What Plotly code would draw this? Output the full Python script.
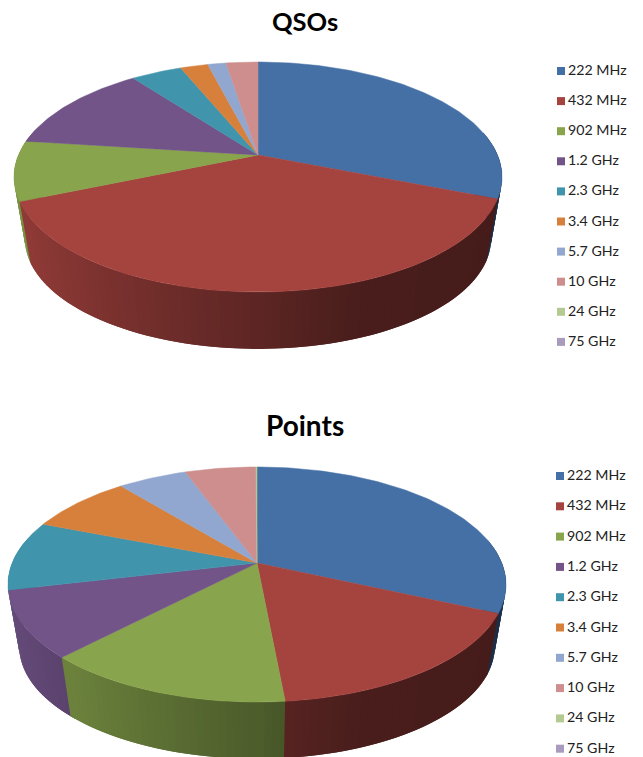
import numpy as np
import plotly.graph_objects as go

categories = ["222 MHz", "432 MHz", "902 MHz", "1.2 GHz", "2.3 GHz", "3.4 GHz", "5.7 GHz", "10 GHz", "24 GHz", "75 GHz"]
qso_values = [31.0, 37.6, 8.4, 12.7, 4.05, 2.2, 1.46, 2.54, 0, 0]
point_values = [31.75, 16.75, 13.67, 9.17, 9.58, 8.14, 5.36, 5.5, 0.08, 0]
colors = ["#4570A5", "#A5433F", "#88A44C", "#725489", "#4095AD", "#D7803C", "#92A7CF", "#CD8E8D", "#B5CA92", "#A99BBD"]

W, H = 643, 757
FONT = "Lato"


def shade(hex_color, f):
    r, g, b = (int(hex_color[i:i + 2], 16) for i in (1, 3, 5))
    return f"rgb({r * f:.0f},{g * f:.0f},{b * f:.0f})"


def rim(theta, cx, cy, A, B, k, dy=0.0):
    # theta clockwise from 12 o'clock, perspective-projected circle
    ux, uy = np.sin(theta), -np.cos(theta)
    s = 1 / (1 - k * uy)
    return cx + B * ux * s, cy + dy + A * uy * s


def add_pie(fig, values, cx, cy, A, B, k, depth, shrink):
    fr = np.array(values, float)
    fr = fr / fr.sum()
    edges = np.concatenate([[0], np.cumsum(fr)]) * 2 * np.pi
    # wall, painted from the back to the front, split at slice boundaries
    lo, hi = np.radians(78), np.radians(282)
    step = np.radians(1.5)
    grid = np.arange(lo, hi + step, step)
    breaks = np.unique(np.r_[grid, edges[(edges > lo) & (edges < hi)]])
    bands = list(zip(breaks[:-1], breaks[1:]))
    bands.sort(key=lambda ab: -np.cos((ab[0] + ab[1]) / 2))
    for a, b in bands:
        mid = (a + b) / 2
        idx = min(int(np.searchsorted(edges, mid, side="right") - 1), len(values) - 1)
        xn = np.sin(mid)
        f = np.interp(xn, [-1, -0.75, 0, 0.35, 1], [0.9, 0.82, 0.56, 0.44, 0.42])
        c = shade(colors[idx], f)
        # extend each band under the next one toward the front to hide seams
        a2, b2 = (a, b + step) if mid < np.pi else (a - step, b)
        xa, ya = rim(np.array([a2, b2]), cx, cy, A, B, k)
        xb, yb = rim(np.array([b2, a2]), cx, cy, A * shrink, B * shrink, k, depth)
        fig.add_trace(go.Scatter(
            x=np.r_[xa, xb, xa[0]], y=np.r_[ya, yb, ya[0]], mode="lines",
            fill="toself", fillcolor=c, line=dict(width=0),
            hoverinfo="skip", showlegend=False))
    # top face
    for i, (name, col) in enumerate(zip(categories, colors)):
        if fr[i] <= 0:
            continue
        t = np.linspace(edges[i], edges[i + 1], max(3, int(fr[i] * 360)))
        x, y = rim(t, cx, cy, A, B, k)
        fig.add_trace(go.Scatter(
            x=np.r_[cx, x, cx], y=np.r_[cy, y, cy], mode="lines", name=name,
            fill="toself", fillcolor=col, line=dict(color=col, width=0.5),
            text=f"{name}: {values[i]}%", hoverinfo="text", showlegend=False))


def add_legend(fig, x0, y0, dy):
    ys = [y0 + i * dy for i in range(len(categories))]
    fig.add_trace(go.Scatter(
        x=[x0] * len(categories), y=ys, mode="markers",
        marker=dict(symbol="square", size=8, color=colors), hoverinfo="skip", showlegend=False))
    fig.add_trace(go.Scatter(
        x=[x0 + 7] * len(categories), y=[v + 0.5 for v in ys], mode="text", text=categories,
        textposition="middle right", textfont=dict(family=FONT, size=14.2, color="#222222"),
        hoverinfo="skip", showlegend=False))


fig = go.Figure()
add_pie(fig, qso_values, cx=258, cy=155, A=110.8, B=239.5, k=0.1913, depth=63, shrink=0.955)
add_pie(fig, point_values, cx=257, cy=563, A=113.6, B=244.8, k=0.183, depth=63, shrink=0.955)
add_legend(fig, 561, 71, 30.1)
add_legend(fig, 560, 476, 30.3)

for title, y, size in (("QSOs", 21, 25.5), ("Points", 425, 28)):
    fig.add_annotation(x=305, y=y, text=f"<b>{title}</b>", showarrow=False,
                       font=dict(family=FONT, size=size, color="#000000"))

fig.update_xaxes(visible=False, range=[0, W], fixedrange=True)
fig.update_yaxes(visible=False, range=[H, 0], fixedrange=True)
fig.update_layout(width=W, height=H, margin=dict(l=0, r=0, t=0, b=0),
                  paper_bgcolor="white", plot_bgcolor="white", showlegend=False)
fig.write_html("out.html", config={"displayModeBar": False},
               post_script="document.body.style.margin='0';")
